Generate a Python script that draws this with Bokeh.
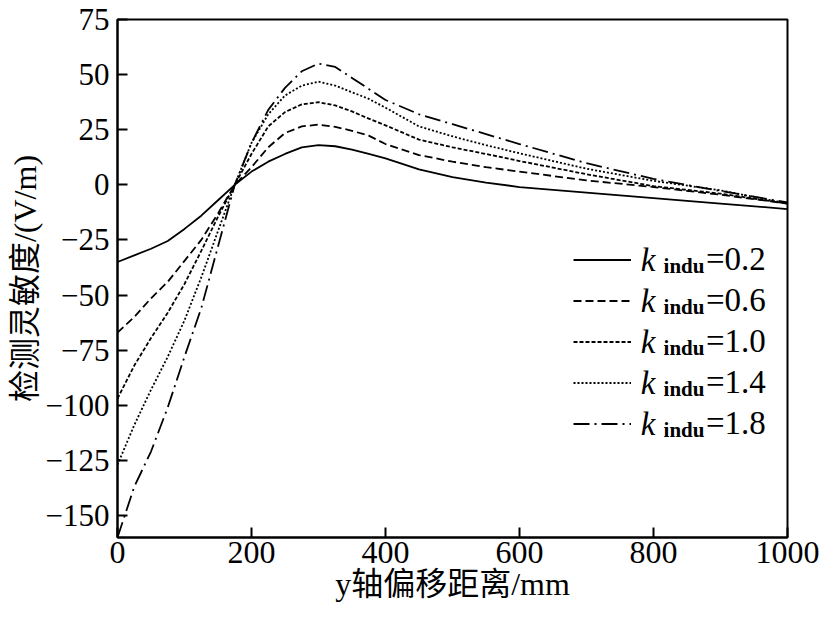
import numpy as np
from bokeh.plotting import figure
from bokeh.models import Legend, LegendItem, Label, FixedTicker, Range1d
from bokeh.embed import file_html
from bokeh.resources import INLINE

# ---- data ----
x_mm = [0, 25, 50, 75, 100, 125, 150, 175, 200, 225, 250, 275, 300, 325, 350,
        375, 400, 450, 500, 550, 600, 700, 800, 900, 1000]
k_02 = [-35, -32, -29, -25.5, -20, -14, -7, 0, 6, 10.5, 14, 17, 18, 17.5, 16,
        14, 12, 7, 3.5, 1, -1, -3.5, -6, -8.5, -11]
k_06 = [-67, -60, -51.5, -44, -34.5, -25, -13, 0, 8, 17, 23.5, 26.5, 27.3, 26.3, 24.5,
        22.3, 18.5, 13.5, 10.5, 8, 6, 2, -1, -4.5, -8.5]
k_10 = [-97, -82, -69.5, -58, -45, -30, -14.5, 0, 14, 26.5, 33, 36.5, 37.5, 36, 33.3,
        30, 27, 20.5, 17, 14, 10.8, 4.8, -0.6, -4, -8.5]
k_14 = [-127, -109, -93, -78, -61.5, -42, -21, 0, 19, 32, 40.5, 45, 46.8, 45, 42,
        39, 35, 26.5, 22, 18, 14.3, 7.3, 1.8, -2.5, -8.5]
k_18 = [-160, -137, -121, -101, -78, -56, -28, 0, 19, 34, 44, 51.5, 55, 53.5, 48.5,
        43.5, 38.5, 32, 27.5, 23, 18.5, 9.8, 2.7, -2.8, -8]
k_values = ["0.2", "0.6", "1.0", "1.4", "1.8"]
x_ticks = [0, 200, 400, 600, 800, 1000]
y_ticks = [-150, -125, -100, -75, -50, -25, 0, 25, 50, 75]
y_tick_labels = ["\u2212150", "\u2212125", "\u2212100", "\u221275", "\u221250",
                 "\u221225", "0", "25", "50", "75"]

series = [k_02, k_06, k_10, k_14, k_18]
dashes = ["solid", "8 4", "4 2", "2 2", "16 5 2 5"]

SERIF = "'Liberation Serif', 'Noto Sans CJK SC'"

p = figure(width=826, height=616, output_backend="svg", toolbar_location=None,
           x_range=Range1d(0, 1000), y_range=Range1d(-160, 75),
           min_border_left=117, min_border_right=39, min_border_top=19,
           min_border_bottom=79)
p.background_fill_color = "white"
p.border_fill_color = "white"
p.outline_line_color = "black"
p.outline_line_width = 2
p.xgrid.visible = False
p.ygrid.visible = False

renderers = []
for ys, d in zip(series, dashes):
    r = p.line(x_mm, ys, line_color="black", line_width=1.8, line_dash=d)
    renderers.append(r)

for ax in (p.xaxis[0], p.yaxis[0]):
    ax.axis_line_color = "black"
    ax.axis_line_width = 2
    ax.major_tick_in = 10
    ax.major_tick_out = 0
    ax.major_tick_line_width = 2
    ax.minor_tick_line_color = None
    ax.major_label_text_font = SERIF
    ax.major_label_text_font_size = "32px"
    ax.major_label_text_color = "black"
    ax.axis_label_text_font = SERIF
    ax.axis_label_text_font_size = "32px"
    ax.axis_label_text_font_style = "normal"
    ax.axis_label_text_color = "black"
    ax.axis_label_standoff = 0

p.yaxis[0].major_label_text_font_size = "31px"
p.xaxis[0].ticker = FixedTicker(ticks=x_ticks)
p.yaxis[0].ticker = FixedTicker(ticks=y_ticks)
p.yaxis[0].major_label_overrides = {t: s for t, s in zip(y_ticks, y_tick_labels)}
p.xaxis[0].major_label_standoff = 4
p.yaxis[0].major_label_standoff = 8
p.xaxis[0].axis_label = "y轴偏移距离/mm"
p.yaxis[0].axis_label = "检测灵敏度/(V/m)"

items = [LegendItem(label="=" + k, renderers=[r]) for k, r in zip(k_values, renderers)]
legend = Legend(items=items, location=(456, 93.5), orientation="vertical",
                padding=0, spacing=0, margin=0, glyph_width=58, glyph_height=41,
                label_height=41, label_standoff=75,
                label_text_font=SERIF, label_text_font_size="33px",
                label_text_color="black", border_line_color=None,
                background_fill_alpha=0)
p.add_layout(legend)

# subscripted "k_indu" parts of the legend labels (data units)
y0_px = 184.3
for i in range(len(k_values)):
    row_y = (y0_px - (259 + 41 * i)) / 2.204
    p.add_layout(Label(x=781, y=row_y, text="k", text_font=SERIF,
                       text_font_size="33px", text_font_style="italic",
                       text_baseline="middle", text_align="left", text_color="black"))
    p.add_layout(Label(x=815, y=row_y - 3.0, text="indu", text_font=SERIF,
                       text_font_size="21px", text_font_style="bold",
                       text_baseline="middle", text_align="left", text_color="black"))

open("out.html", "w").write(file_html(p, INLINE))
